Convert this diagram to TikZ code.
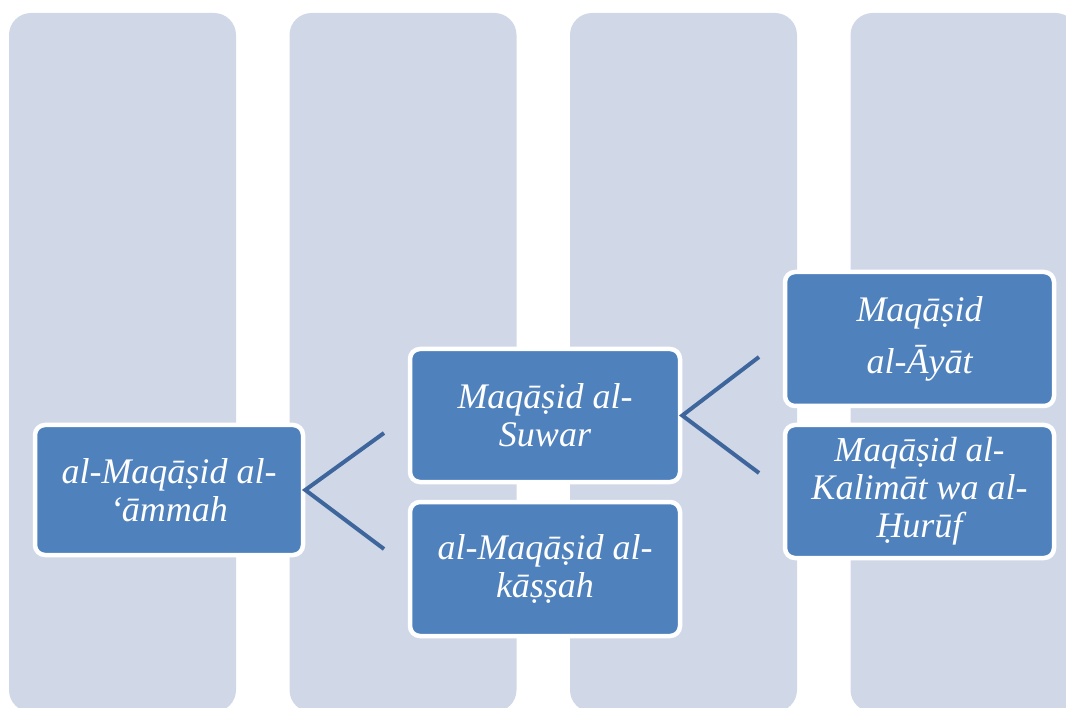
\documentclass[tikz,border=0pt]{standalone}
\usepackage{fontspec}
\setmainfont{Liberation Serif}
\usetikzlibrary{positioning}

\definecolor{colfill}{RGB}{208,216,232}
\definecolor{boxfill}{RGB}{79,129,189}
\definecolor{linkcol}{RGB}{62,102,156}

\tikzset{
  column/.style = {fill = colfill, draw = none, rounded corners = 22pt},
  level/.style = {rectangle, draw = white, fill = boxfill, line width = 4.5pt, rounded corners = 10pt,
                  minimum width = 269pt, minimum height = 133pt, align = center, text = white,
                  font = \fontsize{36}{38}\selectfont\itshape, inner sep = 0pt},
  link/.style = {draw = linkcol, line width = 4pt}
}

\begin{document}
\begin{tikzpicture}[x = 1pt, y = -1pt]
\useasboundingbox (0, 0) rectangle (1066, 708);
\clip (0, 0) rectangle (1066, 708);

% background columns
\foreach \cx in {9, 289.5, 570, 850.5}
    \fill[column] (\cx, 13) rectangle ++(227, 699);

\node[level, minimum width = 268pt, minimum height = 130pt] (amma) at (169, 490) {al-Maqāṣid al-\\‘āmmah};

\node[level, minimum width = 270pt] (suwar) at (545, 415.5) {Maqāṣid al-\\Suwar};
\node[level, minimum width = 270pt, minimum height = 134pt] (khassah) at (545, 569) {al-Maqāṣid al-\\kāṣṣah};

\node[level, minimum height = 134pt] (ayat) at (919.5, 339) {Maqāṣid\\[14pt]al-Āyāt};
\node[level] (kalimat) at (919.5, 491.5) {\fontsize{35}{36}\selectfont Maqāṣid al-\\Kalimāt wa al-\\Ḥurūf};

\coordinate (amma up) at (384, 433);
\coordinate (amma down) at (384, 549);
\coordinate (suwar up) at (759, 357);
\coordinate (suwar down) at (759, 473);

    \draw[link] (amma up) -- (amma.east) -- (amma down);
    \draw[link] (suwar up) -- (suwar.east) -- (suwar down);
\end{tikzpicture}
\end{document}
